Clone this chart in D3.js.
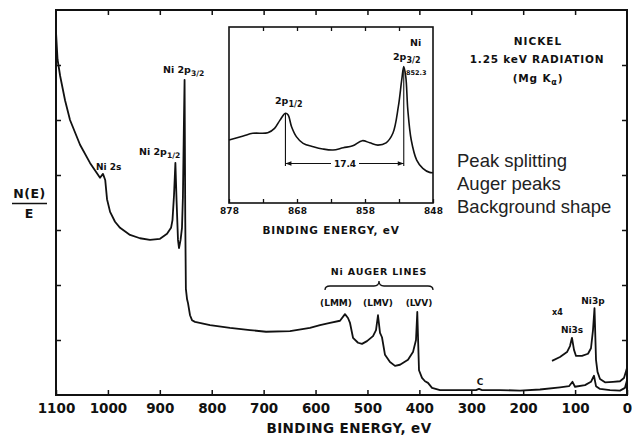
<!DOCTYPE html>
<html>
<head>
<meta charset="utf-8">
<script src="https://cdn.jsdelivr.net/npm/d3@7"></script>
<style>
  body { margin: 0; background: #fff; }
  svg { display: block; }
  text { font-family: "DejaVu Sans", sans-serif; font-weight: bold; fill: #111; }
  .note { font-family: "Liberation Sans", Arial, sans-serif; font-weight: normal; fill: #222; }
</style>
</head>
<body>
<div id="chart"></div>
<script>
'use strict'

// main survey spectrum, binding energy (eV) vs N(E)/E (arb. units)
const mainEnergy = [1100, 1097, 1092, 1082.6, 1073, 1053.7, 1034.5, 1015.2, 1009.5, 1005.2, 1001.7, 995.8, 986.3, 976.6, 957.4, 938.2, 919, 899.6, 886.1, 878.4, 875.6, 872.6, 870, 867.8, 865, 863, 860, 857.3, 855.5, 853.5, 852.3, 851, 849.8, 847.5, 845.7, 841.8, 838, 832.2, 803.3, 764.8, 726.3, 695.4, 649.2, 610.7, 591.4, 572.1, 552.9, 543.3, 537.5, 533.6, 527.8, 518.2, 510.5, 500.9, 489.3, 483.5, 479.7, 475.8, 472, 466.2, 456.6, 446.9, 437.3, 421.9, 412.3, 406.5, 404, 400.7, 394.9, 389.1, 383.4, 375.6, 360.2, 321.7, 290.9, 285.1, 279.3, 244.7, 206.1, 167.6, 129.1, 111.7, 105, 100.2, 80.9, 69.4, 63.6, 59.7, 52, 32.7, 13.5, 3.9, 0]
const mainIntensity = [66, 61, 58, 53.6, 50, 45.5, 42.2, 39.5, 40.2, 39.1, 35.6, 33.3, 31.5, 30.4, 29.1, 28.5, 28.2, 28.4, 29.3, 30.4, 31.8, 36.4, 42.2, 35.5, 28.2, 26.7, 28.2, 30.4, 36, 50, 57.3, 32, 19.3, 17.4, 16.7, 14.5, 13.6, 13.3, 12.7, 12.2, 11.8, 11.5, 11.6, 12.2, 12.7, 13.1, 13.5, 14.7, 14, 13.1, 10.4, 9.5, 9.3, 9.8, 10.7, 11.8, 14.5, 11.3, 10.5, 7.3, 6, 5.3, 5.5, 6.4, 7.8, 10, 15.1, 4.5, 3.1, 2.5, 2.2, 1.3, 0.9, 0.9, 0.9, 1.1, 0.9, 0.9, 0.8, 1.0, 1.4, 1.6, 2.4, 1.5, 1.8, 2.4, 3.5, 1.6, 1.1, 0.9, 0.8, 1.3, 2.7]

// x4 expanded low-energy trace
const x4Energy = [144.5, 129.1, 115.6, 109.8, 106, 102.1, 98.2, 86.7, 75.1, 69.4, 65.5, 62.6, 59.7, 56.8, 52, 42.4, 27, 13.5, 5.8, 0]
const x4Intensity = [6.2, 6.9, 7.8, 8.9, 10.4, 8.2, 7.1, 7.1, 7.5, 8.5, 11.8, 15.8, 6.4, 4.2, 2.9, 2.3, 2.4, 2.5, 3.1, 4.9]

// inset: Ni 2p region
const insetEnergy = [878, 875.9, 874.5, 872.3, 871.3, 870.5, 869.7, 869.3, 868.8, 868.1, 867.1, 865.6, 864.2, 862.7, 861.2, 859.8, 858.4, 857.3, 856.1, 854.9, 853.9, 853.1, 852.6, 852.3, 852.0, 851.7, 851.2, 850.4, 849.5, 848.5, 848]
const insetIntensity = [35.8, 38.1, 39.6, 39.9, 42.4, 47.1, 51, 50, 43.3, 37.7, 33.9, 32, 30.7, 30.1, 31.4, 32.5, 35.4, 34.2, 32.9, 34.2, 39.6, 54.7, 69.9, 77.5, 71.7, 52.8, 35.8, 24.4, 19.7, 17.4, 17.2]

const xTicks = [1100, 1000, 900, 800, 700, 600, 500, 400, 300, 200, 100, 0]
const yTicks = [10, 20, 30, 40, 50, 60]
const insetTicks = [878, 873, 868, 863, 858, 853, 848]
const insetLabels = [878, 868, 858, 848]

const W = 632, H = 438
const svg = d3.select('#chart').append('svg').attr('width', W).attr('height', H)

const x = d3.scaleLinear().domain([1100, 0]).range([56, 627])
const y = d3.scaleLinear().domain([0, 70]).range([395, 10])

// inward ticks on all four sides
svg.append('g').attr('transform', 'translate(0,395)')
  .call(d3.axisBottom(x).tickValues(xTicks).tickSize(-5).tickPadding(8).tickFormat(d3.format('d')))
  .call(g => g.select('.domain').remove())
  .call(g => g.selectAll('text').attr('font-size', 13.5).attr('font-family', 'DejaVu Sans').attr('font-weight', 'bold'))
svg.append('g').attr('transform', 'translate(0,10)')
  .call(d3.axisTop(x).tickValues(xTicks.slice(1, -1)).tickSize(-5).tickFormat(''))
  .call(g => g.select('.domain').remove())
svg.append('g').attr('transform', 'translate(56,0)')
  .call(d3.axisLeft(y).tickValues(yTicks).tickSize(-5).tickFormat(''))
  .call(g => g.select('.domain').remove())
svg.append('g').attr('transform', 'translate(627,0)')
  .call(d3.axisRight(y).tickValues(yTicks).tickSize(-5).tickFormat(''))
  .call(g => g.select('.domain').remove())
svg.selectAll('.tick line').attr('stroke', '#111').attr('stroke-width', 1.5)

svg.append('rect')
  .attr('x', 56).attr('y', 10).attr('width', 627 - 56).attr('height', 385)
  .attr('fill', 'none').attr('stroke', '#111').attr('stroke-width', 2)

const mainLine = d3.line().x(d => x(d[0])).y(d => y(d[1]))
svg.append('path')
  .attr('d', mainLine(d3.zip(mainEnergy, mainIntensity)))
  .attr('fill', 'none').attr('stroke', '#111').attr('stroke-width', 1.8).attr('stroke-linejoin', 'round')
svg.append('path')
  .attr('d', mainLine(d3.zip(x4Energy, x4Intensity)))
  .attr('fill', 'none').attr('stroke', '#111').attr('stroke-width', 1.8).attr('stroke-linejoin', 'round')

svg.append('text').attr('x', 349).attr('y', 433).attr('text-anchor', 'middle')
  .attr('font-size', 13.5).attr('letter-spacing', 0.4).text('BINDING ENERGY, eV')

// N(E)/E
svg.append('text').attr('x', 29.5).attr('y', 198).attr('text-anchor', 'middle').attr('font-size', 12.5).attr('letter-spacing', 0.5).text('N(E)')
svg.append('line').attr('x1', 12).attr('x2', 47).attr('y1', 203.5).attr('y2', 203.5).attr('stroke', '#111').attr('stroke-width', 1.5)
svg.append('text').attr('x', 29).attr('y', 218).attr('text-anchor', 'middle').attr('font-size', 12.5).text('E')

function subLabel (px, py, main, sub, size, anchor) {
  const t = svg.append('text').attr('x', px).attr('y', py).attr('font-size', size)
    .attr('text-anchor', anchor || 'start')
  t.append('tspan').text(main)
  t.append('tspan').attr('dy', size * 0.3).attr('font-size', size * 0.8).text(sub)
  return t
}

svg.append('text').attr('x', 96).attr('y', 170).attr('font-size', 9).text('Ni 2s')
subLabel(139, 155, 'Ni 2p', '1/2', 9.5)
subLabel(163, 73, 'Ni 2p', '3/2', 9.5)

// Auger labels and brace
svg.append('text').attr('x', 379).attr('y', 275).attr('text-anchor', 'middle').attr('font-size', 9.5).attr('letter-spacing', 0.8).text('Ni AUGER LINES')
svg.append('path')
  .attr('d', 'M325,290 Q325,286 330,286 L374,286 Q379,286 379,281 Q379,286 384,286 L428,286 Q433,286 433,290')
  .attr('fill', 'none').attr('stroke', '#111').attr('stroke-width', 1.3)
const augerNames = ['(LMM)', '(LMV)', '(LVV)']
const augerCenters = [336, 378, 419]
augerNames.forEach((s, i) => {
  svg.append('text').attr('x', augerCenters[i]).attr('y', 306).attr('text-anchor', 'middle').attr('font-size', 9).text(s)
})

svg.append('text').attr('x', 480).attr('y', 385).attr('text-anchor', 'middle').attr('font-size', 9).text('C')
svg.append('text').attr('x', 552).attr('y', 315).attr('font-size', 8).text('x4')
svg.append('text').attr('x', 572).attr('y', 333).attr('text-anchor', 'middle').attr('font-size', 9).text('Ni3s')
svg.append('text').attr('x', 593).attr('y', 304).attr('text-anchor', 'middle').attr('font-size', 9).text('Ni3p')

// title block
svg.append('text').attr('x', 538).attr('y', 45).attr('text-anchor', 'middle').attr('font-size', 10.5).attr('letter-spacing', 1).text('NICKEL')
svg.append('text').attr('x', 537).attr('y', 63).attr('text-anchor', 'middle').attr('font-size', 10.5).attr('letter-spacing', 0.8).text('1.25 keV RADIATION')
const mg = svg.append('text').attr('x', 538).attr('y', 82).attr('text-anchor', 'middle').attr('font-size', 10.5).attr('letter-spacing', 0.8)
mg.append('tspan').text('(Mg K')
mg.append('tspan').attr('dy', 3).attr('font-size', 8).text('α')
mg.append('tspan').attr('dy', -3).text(')')

const notes = ['Peak splitting', 'Auger peaks', 'Background shape']
notes.forEach((s, i) => {
  svg.append('text').attr('class', 'note').attr('x', 457).attr('y', 167 + i * 23).attr('font-size', 18.5).text(s)
})

// inset
const ix = d3.scaleLinear().domain([878, 848]).range([229, 433])
const iy = d3.scaleLinear().domain([0, 100]).range([203, 27])
const inset = svg.append('g')
inset.append('rect').attr('x', 229).attr('y', 27).attr('width', 433 - 229).attr('height', 203 - 27)
  .attr('fill', '#fff').attr('stroke', '#111').attr('stroke-width', 1.6)
inset.append('g').attr('transform', 'translate(0,203)')
  .call(d3.axisBottom(ix).tickValues(insetTicks).tickSize(-4).tickPadding(5).tickFormat(d => insetLabels.includes(d) ? d : ''))
  .call(g => g.select('.domain').remove())
  .call(g => g.selectAll('text').attr('font-size', 9).attr('font-family', 'DejaVu Sans').attr('font-weight', 'bold'))
inset.append('g').attr('transform', 'translate(0,27)')
  .call(d3.axisTop(ix).tickValues(insetTicks.slice(1, -1)).tickSize(-4).tickFormat(''))
  .call(g => g.select('.domain').remove())
inset.selectAll('.tick line').attr('stroke', '#111').attr('stroke-width', 1.3)

const insetLine = d3.line().x(d => ix(d[0])).y(d => iy(d[1])).curve(d3.curveCatmullRom.alpha(0.5))
inset.append('path')
  .attr('d', insetLine(d3.zip(insetEnergy, insetIntensity)))
  .attr('fill', 'none').attr('stroke', '#111').attr('stroke-width', 1.6)

// 17.4 eV splitting marker
const p12 = 869.7, p32 = 852.3, dimY = 163.5
inset.append('line').attr('x1', ix(p12)).attr('x2', ix(p12)).attr('y1', iy(51)).attr('y2', 166).attr('stroke', '#111').attr('stroke-width', 1.1)
inset.append('line').attr('x1', ix(p32)).attr('x2', ix(p32)).attr('y1', iy(76)).attr('y2', 166).attr('stroke', '#111').attr('stroke-width', 1.1)
inset.append('line').attr('x1', ix(p12)).attr('x2', 331).attr('y1', dimY).attr('y2', dimY).attr('stroke', '#111').attr('stroke-width', 1.1)
inset.append('line').attr('x1', 359).attr('x2', ix(p32)).attr('y1', dimY).attr('y2', dimY).attr('stroke', '#111').attr('stroke-width', 1.1)
inset.append('path').attr('d', `M${ix(p12)},${dimY} l6,-2.2 l0,4.4 Z M${ix(p32)},${dimY} l-6,-2.2 l0,4.4 Z`).attr('fill', '#111')
inset.append('text').attr('x', 345).attr('y', 166.5).attr('text-anchor', 'middle').attr('font-size', 9).attr('font-weight', 'normal').text('17.4')

inset.append('text').attr('x', 410).attr('y', 46).attr('font-size', 9.5).text('Ni')
const l32 = inset.append('text').attr('x', 393).attr('y', 60).attr('font-size', 9.5)
l32.append('tspan').text('2p')
l32.append('tspan').attr('dy', 2.5).attr('font-size', 8).text('3/2')
inset.append('text').attr('x', 406).attr('y', 75).attr('font-size', 6.5).text('852.3')
const l12 = inset.append('text').attr('x', 275).attr('y', 104).attr('font-size', 9.5)
l12.append('tspan').text('2p')
l12.append('tspan').attr('dy', 2.5).attr('font-size', 8).text('1/2')

svg.append('text').attr('x', 331).attr('y', 234).attr('text-anchor', 'middle').attr('font-size', 10.5).attr('letter-spacing', 0.8).text('BINDING ENERGY, eV')
</script>
</body>
</html>
